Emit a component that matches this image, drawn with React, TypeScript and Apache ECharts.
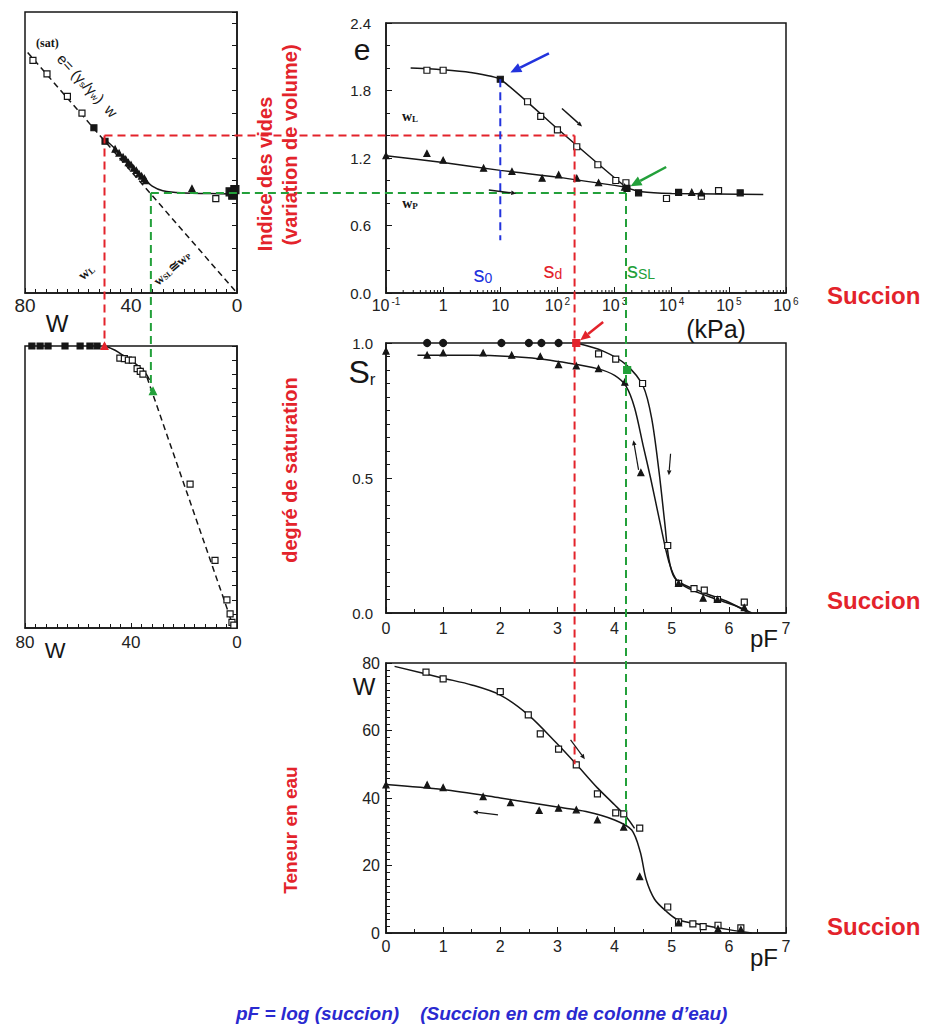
import React, { useEffect, useRef } from "react";
import * as echarts from "echarts";

const FONT = "Liberation Sans";
const INK = "#161616";
const RED = "#e3232b";
const GREEN = "#23a03a";
const BLUE = "#2233dd";
const CAP_BLUE = "#2a2ad0";

// ---------- Top-left panel : void ratio e vs water content W ----------
const tlSatW = [77, 71.7, 64, 58.5];
const tlSatE = [2.07, 1.95, 1.75, 1.6];
const tlSatFillW = [54, 49.8];
const tlSatFillE = [1.47, 1.35];
const tlTriW = [46, 44.5, 43, 42, 41, 40, 39, 38, 37, 36, 35, 34.5, 17];
const tlTriE = [1.28, 1.245, 1.21, 1.19, 1.16, 1.14, 1.11, 1.09, 1.06, 1.04, 1.02, 1.0, 0.93];
const tlSqOpenW = [8];
const tlSqOpenE = [0.84];
const tlSqFillW = [2.6, 1.6, 0.8];
const tlSqFillE = [0.9, 0.87, 0.92];
const tlCurveW = [50, 45, 40, 35, 32, 28, 20, 10, 0];
const tlCurveE = [1.37, 1.26, 1.13, 1.02, 0.95, 0.91, 0.89, 0.885, 0.88];
const tlSatLineW = [79, 0];
const tlSatLineE = [2.14, 0];

// ---------- Middle-left panel : Sr vs W ----------
const mlTopW = [77.4, 74.3, 71.3, 64.9, 59.2, 55.5, 52.8];
const mlTopSr = [1, 1, 1, 1, 1, 1, 1];
const mlPtsW = [44.2, 42.5, 41, 39.5, 37.7, 36.5, 35.5, 17.7, 8.3, 3.8, 2.6, 1.9, 1.2];
const mlPtsSr = [0.957, 0.955, 0.95, 0.95, 0.92, 0.91, 0.9, 0.51, 0.24, 0.1, 0.05, 0.02, 0.01];
const mlCurveW = [50, 46, 42, 38, 35, 33];
const mlCurveSr = [1.0, 0.985, 0.96, 0.935, 0.91, 0.88];
const mlDashW = [34, 1.2];
const mlDashSr = [0.89, 0];

// ---------- Top-right panel : e vs suction (kPa, log) ----------
const trDryOpenS = [0.52, 1.0, 30, 51, 100, 218, 510, 1050, 1580, 8100, 33000, 66000];
const trDryOpenE = [1.98, 1.98, 1.7, 1.57, 1.45, 1.3, 1.14, 1.0, 0.98, 0.84, 0.86, 0.91];
const trDryFillS = [10, 1650, 2630, 13200, 158000];
const trDryFillE = [1.9, 0.93, 0.89, 0.895, 0.89];
const trWetS = [0.1, 0.52, 1.0, 5.1, 16, 54, 105, 218, 525, 1500, 22400, 33000];
const trWetE = [1.22, 1.24, 1.18, 1.11, 1.08, 1.02, 1.05, 1.02, 0.98, 0.94, 0.895, 0.89];
const trDryCurveS = [0.27, 1, 3, 10, 100, 1600, 3000, 10000, 400000];
const trDryCurveE = [2.0, 1.985, 1.96, 1.9, 1.46, 0.94, 0.9, 0.885, 0.875];
const trWetCurveS = [0.1, 1, 10, 100, 1600];
const trWetCurveE = [1.22, 1.16, 1.09, 1.03, 0.94];

// ---------- Middle-right panel : Sr vs pF ----------
const mrDryTopPF = [0.72, 1.0, 2.02, 2.5, 2.72, 3.02];
const mrDryTopSr = [1, 1, 1, 1, 1, 1];
const mrDryPF = [3.72, 4.02, 4.49, 4.93, 5.12, 5.39, 5.57, 5.8, 6.27];
const mrDrySr = [0.96, 0.94, 0.85, 0.25, 0.11, 0.09, 0.085, 0.05, 0.04];
const mrWetPF = [0, 0.72, 1.0, 1.7, 2.2, 2.7, 3.02, 3.33, 3.72, 4.18, 4.46, 5.12, 5.55, 5.8, 6.27];
const mrWetSr = [0.97, 0.955, 0.963, 0.963, 0.955, 0.95, 0.92, 0.915, 0.905, 0.855, 0.52, 0.11, 0.055, 0.05, 0.02];
const mrDryCurvePF = [3.33, 3.8, 4.2, 4.5, 4.65, 4.78, 4.88, 4.95, 5.05, 5.3, 5.8, 6.2, 6.4];
const mrDryCurveSr = [1.0, 0.97, 0.92, 0.84, 0.72, 0.52, 0.33, 0.2, 0.13, 0.09, 0.05, 0.02, 0.0];
const mrWetCurvePF = [0.55, 1.5, 2.5, 3.2, 3.7, 4.0, 4.2, 4.35, 4.5, 4.63, 4.8, 4.95, 5.1, 5.5, 6.0, 6.35];
const mrWetCurveSr = [0.955, 0.955, 0.945, 0.925, 0.905, 0.88, 0.84, 0.76, 0.62, 0.5, 0.33, 0.19, 0.12, 0.08, 0.04, 0.0];

// ---------- Bottom-right panel : W vs pF ----------
const brDryPF = [0.7, 1.0, 2.0, 2.49, 2.7, 3.02, 3.33, 3.7, 4.02, 4.16, 4.44, 4.93, 5.12, 5.37, 5.55, 5.81, 6.21];
const brDryW = [77.3, 75.3, 71.5, 64.6, 59, 54.5, 49.8, 41.2, 35.6, 35.3, 31.1, 7.7, 3.3, 2.7, 1.9, 2.3, 1.5];
const brWetPF = [0, 0.72, 1.0, 1.7, 2.18, 2.68, 3.02, 3.33, 3.7, 4.16, 4.44, 5.12, 5.81, 6.21];
const brWetW = [43.9, 43.9, 43.1, 40.4, 38.6, 36.3, 37, 36.5, 33.5, 31.4, 16.7, 3.0, 1.2, 1.0];
const brDryCurvePF = [0.15, 1, 1.5, 2, 2.5, 3, 3.33, 3.7, 4.0, 4.2, 4.35];
const brDryCurveW = [79, 75.5, 73.5, 70.5, 64.5, 56, 50, 43, 38, 34.5, 31];
const brWetCurvePF = [0, 1, 2, 3, 3.5, 4.0, 4.3, 4.45, 4.55, 4.7, 4.9, 5.1, 5.5, 6.0, 6.4];
const brWetCurveW = [44, 42.5, 40, 37.3, 36, 33.5, 30.5, 24, 16, 10, 6.5, 4, 2.5, 1, 0];

// ---------- characteristic points ----------
const wL = 50;          // liquid limit (%)
const eL = 1.4;         // void ratio at w_L
const wSL = 32.5;       // shrinkage limit (%)
const eSL = 0.89;       // void ratio at shrinkage limit
const s0 = 10;          // kPa
const sdPF = 3.3;
const sslPF = 4.2;
const srAtWSL = 0.84;
const wAtSd = 50;
const wAtSsl = 32;
const kPaFromPF = (pf: number) => Math.pow(10, pf - 1);

const logTicks = [-1, 0, 1, 2, 3, 4, 5];

const pts = (xs: number[], ys: number[]) => xs.map((x, i) => [x, ys[i]]);

function scatter(g: number, data: number[][], symbol: string, fill: string, size = 7, border = INK) {
  return {
    type: "scatter", xAxisIndex: g, yAxisIndex: g, data, symbol, symbolSize: size, silent: true, z: 4,
    itemStyle: { color: fill, borderColor: border, borderWidth: 1.2, opacity: 1 },
  };
}
function curve(g: number, data: number[][], dashed = false, smooth: number | boolean = 0.3) {
  return {
    type: "line", xAxisIndex: g, yAxisIndex: g, data, showSymbol: false, symbol: "none", smooth, silent: true, z: 3,
    lineStyle: { color: INK, width: 1.5, type: dashed ? [6, 4] : "solid" },
  };
}

const axisLine = { show: true, lineStyle: { color: INK, width: 1.5 } };
const tickIn = (len = 6) => ({ show: true, inside: true, length: len, lineStyle: { color: INK, width: 1 } });
const minor = (n: number, len = 3) => ({ show: true, splitNumber: n, length: len, lineStyle: { color: INK, width: 1 } });
const lbl = (size: number, margin: number, extra: any = {}) => ({ color: "#222", fontSize: size, fontFamily: FONT, margin, ...extra });

function buildOption(): any {
  const gridBase = { show: true, borderColor: INK, borderWidth: 1.5, backgroundColor: "transparent", containLabel: false };
  return {
    animation: false,
    backgroundColor: "#fff",
    textStyle: { fontFamily: FONT },
    grid: [
      { ...gridBase, left: 25, top: 12, width: 212, height: 281 },
      { ...gridBase, left: 25, top: 346, width: 212, height: 282 },
      { ...gridBase, left: 386, top: 23, width: 400, height: 270 },
      { ...gridBase, left: 386, top: 343, width: 400, height: 270 },
      { ...gridBase, left: 386, top: 663, width: 400, height: 270 },
    ],
    xAxis: [
      { gridIndex: 0, type: "value", min: 0, max: 80, inverse: true, interval: 40, axisLine, axisTick: tickIn(5), minorTick: minor(10, 4), axisLabel: lbl(19, 3), splitLine: { show: false } },
      { gridIndex: 1, type: "value", min: 0, max: 80, inverse: true, interval: 40, axisLine, axisTick: tickIn(5), minorTick: minor(10, 4), axisLabel: lbl(17, 6), splitLine: { show: false } },
      {
        gridIndex: 2, type: "log", logBase: 10, min: 0.1, max: 1e6, splitNumber: 7, axisLine, axisTick: tickIn(6), splitLine: { show: false },
        axisLabel: lbl(15, 3, {
          formatter: (v: number) => {
            const n = Math.round(Math.log10(v));
            if (n === 0) return "{b|1}";
            if (n === 1) return "{b|10}";
            return `{b|10}{sup|${n}}`;
          },
          rich: {
            b: { fontSize: 16, fontFamily: FONT, color: "#222", lineHeight: 18 },
            sup: { fontSize: 10, fontFamily: FONT, color: "#222", lineHeight: 10, verticalAlign: "top", padding: [0, 0, 0, 2] },
          },
        }),
      },
      { gridIndex: 3, type: "value", min: 0, max: 7, interval: 1, axisLine, axisTick: tickIn(6), minorTick: minor(2, 4), axisLabel: lbl(16, 7), splitLine: { show: false } },
      { gridIndex: 4, type: "value", min: 0, max: 7, interval: 1, axisLine, axisTick: tickIn(6), minorTick: minor(2, 4), axisLabel: lbl(16, 5), splitLine: { show: false } },
    ],
    yAxis: [
      { gridIndex: 0, type: "value", min: 0, max: 2.5, interval: 0.2, position: "right", axisLine, axisTick: tickIn(5), axisLabel: { show: false }, splitLine: { show: false } },
      { gridIndex: 1, type: "value", min: 0, max: 1, interval: 0.05, position: "right", axisLine, axisTick: tickIn(5), axisLabel: { show: false }, splitLine: { show: false } },
      { gridIndex: 2, type: "value", min: 0, max: 2.4, interval: 0.6, axisLine, axisTick: tickIn(6), minorTick: minor(3, 4), axisLabel: lbl(15, 15, { formatter: (v: number) => v.toFixed(1) }), splitLine: { show: false } },
      { gridIndex: 3, type: "value", min: 0, max: 1, interval: 0.5, axisLine, axisTick: tickIn(6), minorTick: minor(10, 4), axisLabel: lbl(15, 13, { formatter: (v: number) => v.toFixed(1) }), splitLine: { show: false } },
      { gridIndex: 4, type: "value", min: 0, max: 80, interval: 20, axisLine, axisTick: tickIn(6), minorTick: minor(10, 4), axisLabel: lbl(16, 6), splitLine: { show: false } },
    ],
    series: [
      // top-left
      curve(0, pts(tlSatLineW, tlSatLineE), true, false),
      curve(0, pts(tlCurveW, tlCurveE), false, 0.4),
      scatter(0, pts(tlSatW, tlSatE), "rect", "#fff", 6),
      scatter(0, pts(tlSatFillW, tlSatFillE), "rect", INK, 6),
      scatter(0, pts(tlTriW, tlTriE), "triangle", INK, 6),
      scatter(0, pts(tlSqOpenW, tlSqOpenE), "rect", "#fff", 6),
      scatter(0, pts(tlSqFillW, tlSqFillE), "rect", INK, 8),
      // middle-left
      curve(1, pts(mlCurveW, mlCurveSr), false, 0.4),
      curve(1, pts(mlDashW, mlDashSr), true, false),
      scatter(1, pts(mlTopW, mlTopSr), "rect", INK, 6),
      scatter(1, pts(mlPtsW, mlPtsSr), "rect", "#fff", 6),
      scatter(1, [[31.7, srAtWSL]], "triangle", GREEN, 7, GREEN),
      scatter(1, [[wL, 1]], "triangle", RED, 7, RED),
      // top-right
      curve(2, pts(trDryCurveS, trDryCurveE), false, 0.15),
      curve(2, pts(trWetCurveS, trWetCurveE), false, 0.3),
      scatter(2, pts(trDryOpenS, trDryOpenE), "rect", "#fff", 6),
      scatter(2, pts(trDryFillS, trDryFillE), "rect", INK, 6),
      scatter(2, pts(trWetS, trWetE), "triangle", INK, 6),
      // middle-right
      curve(3, pts(mrDryCurvePF, mrDryCurveSr), false, 0.3),
      curve(3, pts(mrWetCurvePF, mrWetCurveSr), false, 0.3),
      scatter(3, pts(mrDryTopPF, mrDryTopSr), "circle", INK, 7),
      scatter(3, pts(mrDryPF, mrDrySr), "rect", "#fff", 6),
      scatter(3, pts(mrWetPF, mrWetSr), "triangle", INK, 6),
      scatter(3, [[sdPF + 0.03, 1]], "rect", RED, 7, RED),
      scatter(3, [[sslPF + 0.02, 0.9]], "rect", GREEN, 7, GREEN),
      // bottom-right
      curve(4, pts(brDryCurvePF, brDryCurveW), false, 0.3),
      curve(4, pts(brWetCurvePF, brWetCurveW), false, 0.3),
      scatter(4, pts(brDryPF, brDryW), "rect", "#fff", 6),
      scatter(4, pts(brWetPF, brWetW), "triangle", INK, 6),
    ],
  };
}

function buildGraphics(chart: any): any[] {
  const P = (gi: number, x: number, y: number) => chart.convertToPixel({ gridIndex: gi }, [x, y]) as number[];
  const dash = (x1: number, y1: number, x2: number, y2: number, color: string) => ({
    type: "line", z: 20, silent: true,
    shape: { x1, y1, x2, y2 },
    style: { stroke: color, lineWidth: 2, lineDash: [8, 5] },
  });
  const arrow = (p1: number[], p2: number[], color: string, lw: number, head: number) => {
    const dx = p2[0] - p1[0], dy = p2[1] - p1[1];
    const len = Math.hypot(dx, dy) || 1;
    const ux = dx / len, uy = dy / len;
    const b = [p2[0] - ux * head, p2[1] - uy * head];
    const nx = -uy, ny = ux, hw = head * 0.45;
    return [
      { type: "line", z: 22, silent: true, shape: { x1: p1[0], y1: p1[1], x2: b[0], y2: b[1] }, style: { stroke: color, lineWidth: lw } },
      { type: "polygon", z: 22, silent: true, shape: { points: [p2, [b[0] + nx * hw, b[1] + ny * hw], [b[0] - nx * hw, b[1] - ny * hw]] }, style: { fill: color } },
    ];
  };
  const text = (x: number, y: number, t: string, o: any = {}) => ({
    type: "text", x, y, z: 30, silent: true, rotation: o.rotation || 0,
    style: {
      text: t, fill: o.fill || INK, fontSize: o.fontSize || 16, fontWeight: o.fontWeight || "normal",
      fontStyle: o.fontStyle || "normal", fontFamily: o.fontFamily || FONT,
      align: o.align || "center", verticalAlign: o.verticalAlign || "middle", rich: o.rich,
    },
  });
  const subRich = (color: string, big: number, small: number, family = FONT, weight = "normal") => ({
    b: { fill: color, color, fontSize: big, fontFamily: family, fontWeight: weight, lineHeight: big },
    s: { fill: color, color, fontSize: small, fontFamily: family, fontWeight: weight, lineHeight: small, verticalAlign: "bottom" },
    p: { fill: color, color, fontSize: small, fontFamily: family, fontWeight: weight, lineHeight: small, verticalAlign: "top" },
  });

  const els: any[] = [];

  // --- guide lines ---
  const sdK = kPaFromPF(sdPF);
  const sslK = kPaFromPF(sslPF);
  const yEL = P(2, sdK, eL)[1];
  const xWL = P(0, wL, 0)[0];
  const xSd = P(3, sdPF, 0)[0];
  els.push(dash(xWL, yEL, P(2, sdK, eL)[0], yEL, RED));
  els.push(dash(xWL, yEL, xWL, P(1, wL, 1)[1], RED));
  els.push(dash(xSd, yEL, xSd, P(4, sdPF, wAtSd)[1], RED));

  const yESL = P(2, sslK, eSL)[1];
  const xWSL = P(0, wSL, 0)[0];
  const xSsl = P(3, sslPF, 0)[0];
  els.push(dash(xWSL, yESL, P(2, sslK, eSL)[0], yESL, GREEN));
  els.push(dash(xWSL, yESL, xWSL, P(1, wSL, srAtWSL)[1], GREEN));
  els.push(dash(xSsl, yESL, xSsl, P(4, sslPF, wAtSsl)[1], GREEN));

  const xS0 = P(2, s0, 0)[0];
  els.push(dash(xS0, P(2, s0, 1.9)[1], xS0, P(2, s0, 0.47)[1], BLUE));

  // --- log minor ticks on the suction axis ---
  const yBot = P(2, 1, 0)[1];
  logTicks.forEach((k) => {
    for (let m = 2; m <= 9; m++) {
      const x = P(2, m * Math.pow(10, k), 0)[0];
      els.push({ type: "line", z: 5, silent: true, shape: { x1: x, y1: yBot, x2: x, y2: yBot - 3 }, style: { stroke: INK, lineWidth: 1 } });
    }
  });

  // --- arrows ---
  els.push(...arrow(P(2, 71, 2.13), P(2, 15, 1.96), BLUE, 2.5, 11));
  els.push(...arrow(P(2, 8000, 1.12), P(2, 1900, 0.95), GREEN, 2.5, 11));
  els.push(...arrow(P(3, 3.8, 1.078), P(3, 3.4, 1.01), RED, 2.5, 10));
  els.push(...arrow(P(2, 120, 1.64), P(2, 270, 1.48), INK, 1.5, 5));
  els.push(...arrow(P(2, 6.3, 0.915), P(2, 19, 0.885), INK, 1.5, 5));
  els.push(...arrow(P(3, 4.42, 0.53), P(3, 4.33, 0.64), INK, 1.2, 5));
  els.push(...arrow(P(3, 4.98, 0.59), P(3, 4.95, 0.51), INK, 1.2, 5));
  els.push(...arrow(P(4, 3.23, 57.2), P(4, 3.48, 51.5), INK, 1.2, 5));
  els.push(...arrow(P(4, 1.96, 35), P(4, 1.52, 35.9), INK, 1.2, 5));

  // --- panel labels ---
  els.push(text(362, 49, "e", { fontSize: 30 }));
  els.push(text(362, 372, "{b|S}{s|r}", { rich: subRich(INK, 32, 17) }));
  els.push(text(364, 686, "W", { fontSize: 24 }));
  els.push(text(764, 638, "pF", { fontSize: 24 }));
  els.push(text(764, 957, "pF", { fontSize: 24 }));
  els.push(text(716, 329, "(kPa)", { fontSize: 25 }));
  els.push(text(57, 323, "W", { fontSize: 24 }));
  els.push(text(55, 650, "W", { fontSize: 22 }));

  els.push(text(410, 116, "{b|w}{s|L}", { rich: subRich(INK, 14, 9, "Liberation Serif", "bold") }));
  els.push(text(410, 203, "{b|w}{s|P}", { rich: subRich(INK, 14, 9, "Liberation Serif", "bold") }));

  els.push(text(483, 274, "{b|s}{s|0}", { rich: subRich(BLUE, 22, 14) }));
  els.push(text(553, 270, "{b|s}{s|d}", { rich: subRich(RED, 22, 14) }));
  els.push(text(641, 270, "{b|s}{s|SL}", { rich: subRich(GREEN, 22, 14) }));

  // top-left annotations
  els.push(text(36, 43, "(sat)", { fontSize: 12, fontWeight: "bold", fontFamily: "Liberation Serif", align: "left" }));
  els.push(text(60, 56, "{b|e= (γ}{s|s}{b|/γ}{s|w}{b|)  w}", { align: "left", rotation: -0.82, rich: subRich(INK, 15, 9) }));
  els.push(text(86, 272, "{b|w}{s|L}", { rotation: 0.72, rich: subRich(INK, 14, 9, "Liberation Serif", "bold") }));
  els.push(text(172, 268, "{b|w}{s|SL}{b|≅w}{s|P}", { rotation: 0.72, rich: subRich(INK, 13, 8, "Liberation Serif", "bold") }));

  // red vertical titles
  const red = { fill: RED, fontWeight: "bold", rotation: Math.PI / 2 };
  els.push(text(265, 174, "Indice des vides", { ...red, fontSize: 20 }));
  els.push(text(290, 145, "(variation de volume)", { ...red, fontSize: 20 }));
  els.push(text(290, 470, "degré de saturation", { ...red, fontSize: 20 }));
  els.push(text(290, 830, "Teneur en eau", { ...red, fontSize: 19 }));

  // Succion labels
  const suc = { fill: RED, fontWeight: "bold", fontSize: 24, align: "left" };
  els.push(text(827, 295, "Succion", suc));
  els.push(text(827, 600, "Succion", suc));
  els.push(text(827, 926, "Succion", suc));

  // caption
  els.push(text(236, 1013, "pF = log (succion)    (Succion en cm de colonne d’eau)", {
    fill: CAP_BLUE, fontWeight: "bold", fontStyle: "italic", fontSize: 19, align: "left",
  }));

  return els;
}

export default function App() {
  const ref = useRef<HTMLDivElement>(null);
  useEffect(() => {
    if (!ref.current) return;
    const chart = echarts.init(ref.current, null, { renderer: "svg" });
    chart.setOption(buildOption());
    chart.setOption({ graphic: { elements: buildGraphics(chart) } });
    return () => chart.dispose();
  }, []);
  return (
    <div
      ref={ref}
      style={{ position: "absolute", left: 0, top: 0, width: 943, height: 1030, background: "#fff" }}
    />
  );
}
